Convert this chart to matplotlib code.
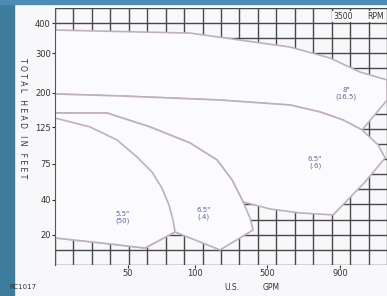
import matplotlib.pyplot as plt
from matplotlib.patches import Polygon, Rectangle

# chart is on irregular graph paper, so everything is in grid units
# (1 unit = one heavy grid square)
y_ticks = [16, 14, 11.4, 9.1, 6.7, 4.3, 2.0]
y_labels = ['400', '300', '200', '125', '75', '40', '20']
x_ticks = [3.96, 7.6, 11.5, 15.45]
x_labels = ['50', '100', '500', '900']

# coverage regions (outline points), one per impeller range
region_8 = [(0, 15.54), (7.32, 15.34), (12.74, 14.42), (14.91, 13.69), (16.54, 12.76),
            (18, 12.24), (18, 10.9), (16.65, 8.93), (15.62, 9.59), (14.37, 10.12),
            (12.74, 10.58), (8.95, 10.91), (3.52, 11.18), (0, 11.31)]
region_b = [(0, 11.31), (3.52, 11.18), (8.95, 10.91), (12.74, 10.58), (14.37, 10.12),
            (15.62, 9.59), (16.65, 8.93), (17.52, 7.94), (17.9, 7.08), (16.81, 5.49),
            (15.08, 3.31), (13.29, 3.44), (11.66, 3.7), (10.2, 4.17), (9.6, 5.62),
            (8.79, 6.94), (7.32, 8.07), (5.15, 9.13), (2.82, 10.05), (0, 10.05)]
region_m = [(0, 10.05), (2.82, 10.05), (5.15, 9.13), (7.32, 8.07), (8.79, 6.94),
            (9.6, 5.62), (10.2, 4.17), (10.57, 3.11), (10.74, 2.31), (8.95, 0.99),
            (6.51, 2.18), (4.88, 1.12), (2.98, 1.39), (0, 1.79)]
region_l = [(0, 9.72), (1.9, 9.13), (3.36, 8.27), (4.45, 7.14), (5.26, 6.15),
            (5.8, 5.09), (6.18, 3.97), (6.4, 2.98), (6.51, 2.18), (4.88, 1.12),
            (2.98, 1.39), (0, 1.79)]
regions = [region_8, region_b, region_m, region_l]

region_text = ['8"\n(16.5)', '6.5"\n(.6)', '6.5"\n(.4)', '5.5"\n(50)']
text_pos = [(15.8, 11.35), (14.1, 6.8), (8.05, 3.4), (3.65, 3.15)]

fig = plt.figure(figsize=(3.87, 2.96), dpi=100)
fig.patch.set_facecolor('#f8f8fa')
# blue edge of the photo
fig.patches.append(Rectangle((0, 0), 0.037, 1, transform=fig.transFigure,
                             color='#3d7c9c', zorder=0))
fig.patches.append(Rectangle((0, 0.985), 1, 0.015, transform=fig.transFigure,
                             color='#4b8db5', zorder=0))

ax = fig.add_axes([0.142, 0.105, 0.858, 0.868])
ax.set_facecolor('#f8f8fa')
ax.set_xlim(0, 18)
ax.set_ylim(0, 17)

for gx in range(0, 19):
    ax.axvline(gx, color='#484848', lw=1.0, zorder=1)
for gy in range(0, 18):
    ax.axhline(gy, color='#484848', lw=1.0, zorder=1)

for pts in regions:
    ax.add_patch(Polygon(pts, closed=True, facecolor='#fbfbfd',
                         edgecolor='#c0b0ba', lw=1.2, joinstyle='round', zorder=2))

for t, (tx, ty) in zip(region_text, text_pos):
    ax.text(tx, ty, t, fontsize=5, color='#5a6896', ha='center', va='center',
            linespacing=1.1, zorder=3)

ax.text(15.6, 16.45, '3500', fontsize=5.5, color='#333333', ha='center',
        va='center', zorder=3,
        bbox=dict(boxstyle='square,pad=0.1', fc='#f8f8fa', ec='none'))
ax.text(17.4, 16.45, 'RPM', fontsize=5.5, color='#333333', ha='center',
        va='center', zorder=3,
        bbox=dict(boxstyle='square,pad=0.1', fc='#f8f8fa', ec='none'))

ax.set_yticks(y_ticks)
ax.set_yticklabels(y_labels)
ax.set_xticks(x_ticks)
ax.set_xticklabels(x_labels)
ax.tick_params(axis='both', labelsize=6, colors='#333333', length=2, pad=1)
for s in ['top', 'right', 'bottom']:
    ax.spines[s].set_visible(False)
ax.spines['left'].set_color('#555555')

fig.text(0.057, 0.6, 'T O T A L   H E A D   I N   F E E T', rotation=-90,
         fontsize=5.5, color='#333333', ha='center', va='center')
fig.text(0.60, 0.03, 'U.S.', fontsize=5.5, color='#333333', ha='center', va='center')
fig.text(0.70, 0.03, 'GPM', fontsize=5.5, color='#333333', ha='center', va='center')
fig.text(0.025, 0.03, 'RC1017', fontsize=5, color='#333333', ha='left', va='center')

fig.savefig('out.png', dpi=100, facecolor=fig.get_facecolor())
